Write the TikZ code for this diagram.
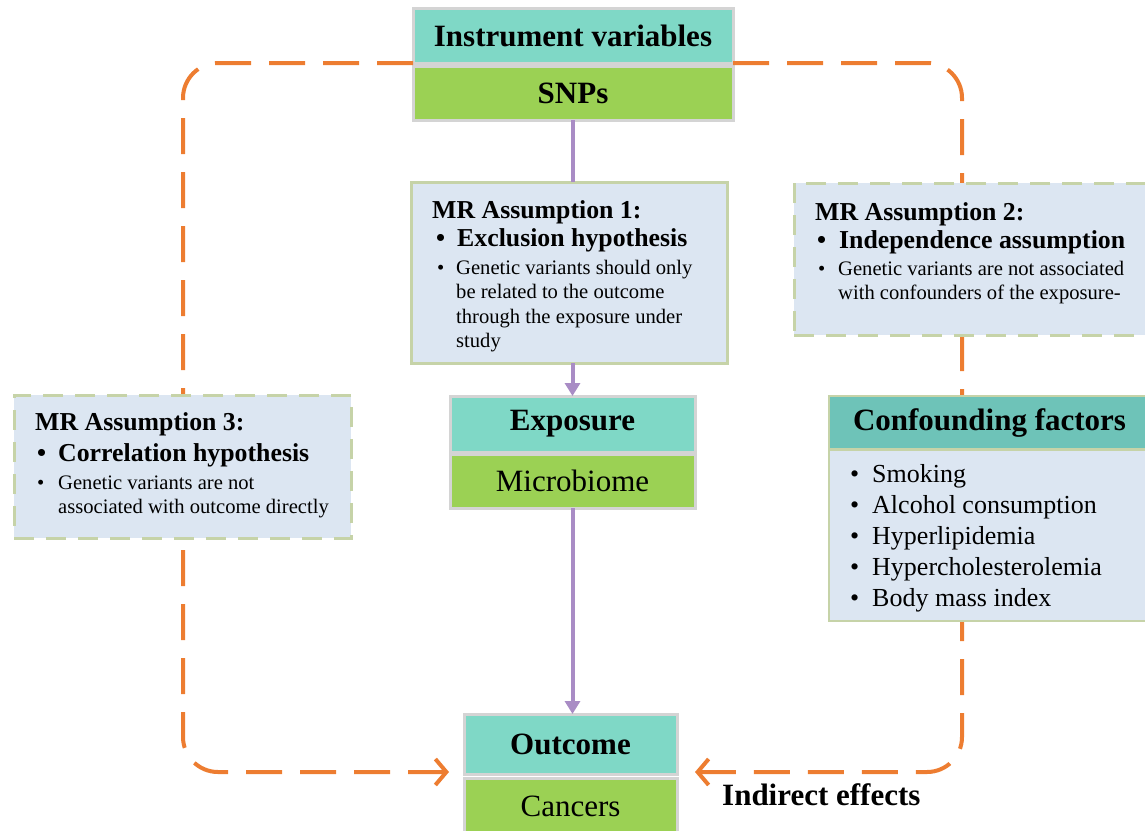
\documentclass[tikz,border=0pt]{standalone}
\usepackage{fontspec}
\setmainfont{Liberation Serif}
\usetikzlibrary{arrows.meta}
\definecolor{tealc}{HTML}{7FD8C6}
\definecolor{tealh}{HTML}{6EC3B8}
\definecolor{greenc}{HTML}{9BD154}
\definecolor{lblue}{HTML}{DCE6F2}
\definecolor{olivebd}{HTML}{C6D3A8}
\definecolor{graybd}{HTML}{D4D4D4}
\definecolor{orangec}{HTML}{ED7D31}
\definecolor{purplec}{HTML}{A98CC5}
\tikzset{
  boxbase/.style={rectangle, inner sep=0pt, outer sep=0pt},
  tealbox/.style={boxbase, fill=tealc, draw=graybd, line width=3pt, font=\fontsize{31}{34}\selectfont\bfseries},
  greenbox/.style={boxbase, fill=greenc, draw=graybd, line width=3pt, font=\fontsize{31}{34}\selectfont},
  assumsolid/.style={boxbase, fill=lblue, draw=olivebd, line width=3pt},
  assumdash/.style={boxbase, fill=lblue, draw=olivebd, line width=3pt, dash pattern=on 20pt off 12pt},
  cfhead/.style={boxbase, fill=tealh, draw=olivebd, line width=2pt, font=\fontsize{31}{34}\selectfont\bfseries},
  cfbody/.style={boxbase, fill=lblue, draw=olivebd, line width=2pt},
  tbig/.style={anchor=base west, inner sep=0pt, font=\fontsize{25.8}{28}\selectfont\bfseries},
  tsm/.style={anchor=base west, inner sep=0pt, font=\fontsize{20.6}{23}\selectfont},
  tcf/.style={anchor=base west, inner sep=0pt, font=\fontsize{26}{28}\selectfont},
  orangeline/.style={draw=orangec, line width=4pt, dash pattern=on 36pt off 18pt, rounded corners=35pt, -{Straight Barb[length=11pt,width=26pt]}},
  purpleline/.style={draw=purplec, line width=4pt},
  purplearrow/.style={purpleline, -{Triangle[length=13pt,width=15pt]}}
}
\begin{document}
\begin{tikzpicture}[x=1pt,y=-1pt]
\useasboundingbox (0,0) rectangle (1145,830);

% corner/end coordinates for the orange loops
\coordinate (lc) at (183,772);
\coordinate (le) at (449,772);
\coordinate (rc) at (962,772);
\coordinate (re) at (695,772);

% boxes
\node[tealbox, minimum width=320pt, minimum height=55pt] (iv) at (573,35.5) {Instrument variables};
\node[greenbox, minimum width=320pt, minimum height=54pt, font=\fontsize{31}{34}\selectfont\bfseries] (snp) at (573,93) {SNPs};

% orange loops (behind the boxes)
\draw[orangeline] (iv.south west) -| (lc) -- (le);
\draw[orangeline] (iv.south east) -| (rc) -- (re);

\node[assumsolid, minimum width=316pt, minimum height=181pt] (a1) at (569,272.5) {};
\node[assumdash, minimum width=356pt, minimum height=152pt] (a2) at (972,259) {};
\node[assumdash, minimum width=337pt, minimum height=143pt] (a3) at (182.5,466.5) {};

\node[tealbox, minimum width=245pt, minimum height=56pt] (exp) at (572.5,424) {Exposure};
\node[greenbox, minimum width=245pt, minimum height=54pt] (mic) at (572.5,481) {Microbiome};

\node[cfhead, minimum width=321pt, minimum height=53pt] (cfh) at (989.5,422.5) {Confounding factors};
\node[cfbody, minimum width=321pt, minimum height=171pt] (cfb) at (989.5,535) {};

\node[tealbox, minimum width=213pt, minimum height=60pt] (out) at (570.5,744) {Outcome};
\node[greenbox, minimum width=213pt, minimum height=56pt] (can) at (570.5,806) {Cancers};

% purple connectors
\draw[purpleline] (snp.south) -- (snp.south |- a1.north);
\draw[purplearrow] (a1.south -| exp.north) -- (exp.north);
\draw[purplearrow] (mic.south) -- (mic.south |- out.north);

% Assumption 1 text
\node[tbig] (a1t) at (432,218) {MR Assumption 1:};
\node[tbig] (a1b) at (436,246) {•};
\node[tbig] (a1h) at (457,246) {Exclusion hypothesis};
\node[tsm] (a1s) at (437,274) {•};
\node[tsm] (a1l1) at (456,274) {Genetic variants should only};
\node[tsm] (a1l2) at (456,298.5) {be related to the outcome};
\node[tsm] (a1l3) at (456,323) {through the exposure under};
\node[tsm] (a1l4) at (456,347) {study};

% Assumption 2 text
\node[tbig] (a2t) at (815,220) {MR Assumption 2:};
\node[tbig] (a2b) at (817,248) {•};
\node[tbig] (a2h) at (839,248) {Independence assumption};
\node[tsm] (a2s) at (818,275) {•};
\node[tsm] (a2l1) at (838,275) {Genetic variants are not associated};
\node[tsm] (a2l2) at (838,299) {with confounders of the exposure-};

% Assumption 3 text
\node[tbig] (a3t) at (35,430) {MR Assumption 3:};
\node[tbig] (a3b) at (37,461) {•};
\node[tbig] (a3h) at (58,461) {Correlation hypothesis};
\node[tsm] (a3s) at (37,489) {•};
\node[tsm] (a3l1) at (58,489) {Genetic variants are not};
\node[tsm] (a3l2) at (58,513) {associated with outcome directly};

% Confounding factors list
\node[tcf] (cb1) at (850,482) {•};
\node[tcf] (c1) at (872,482) {Smoking};
\node[tcf] (cb2) at (850,513) {•};
\node[tcf] (c2) at (872,513) {Alcohol consumption};
\node[tcf] (cb3) at (850,544) {•};
\node[tcf] (c3) at (872,544) {Hyperlipidemia};
\node[tcf] (cb4) at (850,575) {•};
\node[tcf] (c4) at (872,575) {Hypercholesterolemia};
\node[tcf] (cb5) at (850,606) {•};
\node[tcf] (c5) at (872,606) {Body mass index};

% Indirect effects label
\node[anchor=base west, inner sep=0pt, font=\fontsize{31}{34}\selectfont\bfseries] (ind) at (722,805) {Indirect effects};
\end{tikzpicture}
\end{document}
